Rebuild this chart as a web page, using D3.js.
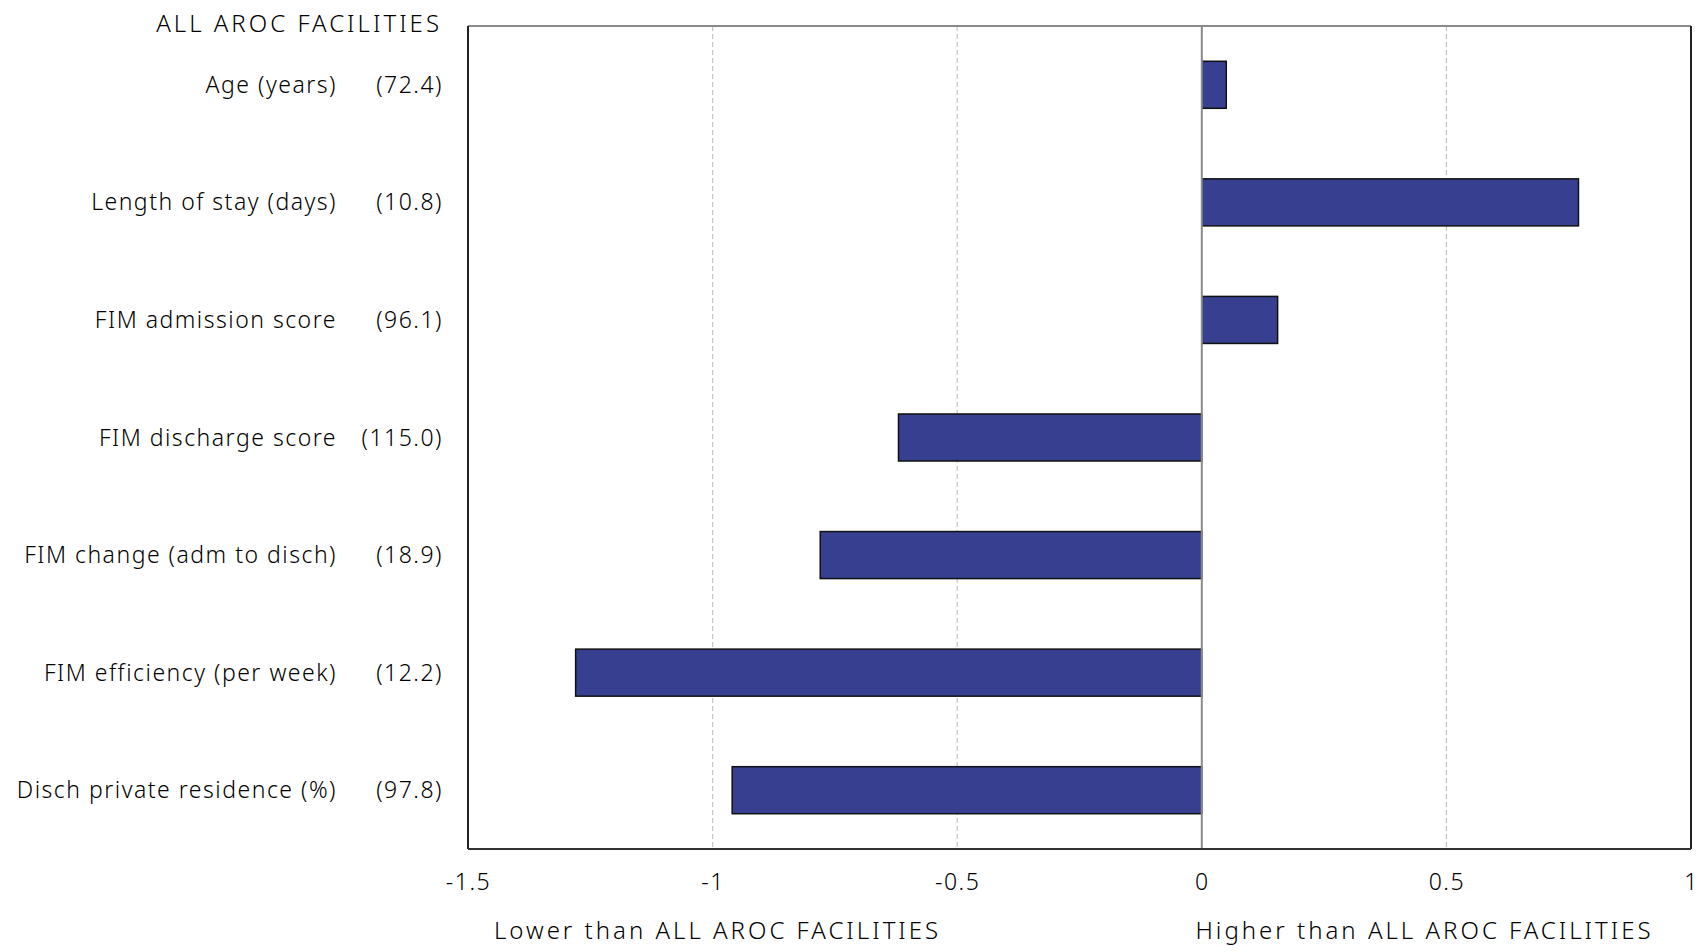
<!DOCTYPE html>
<html>
<head>
<meta charset="utf-8">
<script src="https://cdn.jsdelivr.net/npm/d3@7"></script>
<style>
  body { margin: 0; background: #fff; }
  text { font-family: "Noto Sans", "DejaVu Sans", sans-serif; font-weight: 300; fill: #000; letter-spacing: 1.5px; }
  .caps { letter-spacing: 3px; }
</style>
</head>
<body>
<div id="container"></div>
<script>
/**
 * DATA
 * */
const categories = [
  "Age (years)",
  "Length of stay (days)",
  "FIM admission score",
  "FIM discharge score",
  "FIM change (adm to disch)",
  "FIM efficiency (per week)",
  "Disch private residence (%)"
];
const benchmarkValues = ["(72.4)", "(10.8)", "(96.1)", "(115.0)", "(18.9)", "(12.2)", "(97.8)"];
const differences = [0.05, 0.77, 0.155, -0.62, -0.78, -1.28, -0.96];
const xTicks = [-1.5, -1, -0.5, 0, 0.5, 1];
const headerLabel = "ALL AROC FACILITIES";
const lowerLabel = "Lower than ALL AROC FACILITIES";
const higherLabel = "Higher than ALL AROC FACILITIES";

/**
 * CONSTANTS
 * */
const width = 1700, height = 952;
const margin = { top: 26, right: 9, bottom: 103, left: 468 };
const innerW = width - margin.left - margin.right;
const innerH = height - margin.top - margin.bottom;
const fontSize = "23px";

const svg = d3.select("#container")
  .append("svg")
  .attr("width", width)
  .attr("height", height);

const g = svg.append("g")
  .attr("transform", `translate(${margin.left},${margin.top})`);

const x = d3.scaleLinear().domain([-1.5, 1]).range([0, innerW]);
const y = d3.scaleBand().domain(categories).range([0, innerH]).paddingInner(0.6).paddingOuter(0.3);

// gridlines (dashed)
g.selectAll(".grid")
  .data(xTicks.filter(d => d !== 0 && d !== -1.5 && d !== 1))
  .join("line")
  .attr("class", "grid")
  .attr("x1", d => x(d)).attr("x2", d => x(d))
  .attr("y1", 0).attr("y2", innerH)
  .attr("stroke", "#c4c4c4")
  .attr("stroke-width", 1.2)
  .attr("stroke-dasharray", "5,3");

// bars
g.selectAll(".bar")
  .data(differences)
  .join("rect")
  .attr("class", "bar")
  .attr("x", d => x(Math.min(0, d)))
  .attr("width", d => Math.abs(x(d) - x(0)))
  .attr("y", (d, i) => y(categories[i]))
  .attr("height", y.bandwidth())
  .attr("fill", "#373f91")
  .attr("stroke", "#111")
  .attr("stroke-width", 1.5);

// zero line
g.append("line")
  .attr("x1", x(0)).attr("x2", x(0))
  .attr("y1", 0).attr("y2", innerH)
  .attr("stroke", "#8a8a8a")
  .attr("stroke-width", 2);

// frame
g.append("line").attr("x1", 0).attr("x2", innerW).attr("y1", 0).attr("y2", 0)
  .attr("stroke", "#8a8a8a").attr("stroke-width", 2);
g.append("line").attr("x1", 0).attr("x2", 0).attr("y1", 0).attr("y2", innerH)
  .attr("stroke", "#222").attr("stroke-width", 2);
g.append("line").attr("x1", innerW).attr("x2", innerW).attr("y1", 0).attr("y2", innerH)
  .attr("stroke", "#222").attr("stroke-width", 2);
g.append("line").attr("x1", 0).attr("x2", innerW).attr("y1", innerH).attr("y2", innerH)
  .attr("stroke", "#333").attr("stroke-width", 2);

// x axis labels
const xAxis = d3.axisBottom(x).tickValues(xTicks).tickSize(0).tickPadding(25)
  .tickFormat(d => String(d));
const ax = g.append("g").attr("transform", `translate(0,${innerH})`).call(xAxis);
ax.select(".domain").remove();
ax.selectAll("text")
  .style("font-family", "'Noto Sans', 'DejaVu Sans', sans-serif")
  .style("font-size", fontSize)
  .attr("fill", "#000");

// category labels
svg.selectAll(".cat")
  .data(categories)
  .join("text")
  .attr("class", "cat")
  .attr("x", 337)
  .attr("y", d => margin.top + y(d) + y.bandwidth() / 2)
  .attr("dy", "0.35em")
  .attr("text-anchor", "end")
  .style("font-size", fontSize)
  .text(d => d);

// benchmark values
svg.selectAll(".val")
  .data(benchmarkValues)
  .join("text")
  .attr("class", "val")
  .attr("x", 443)
  .attr("y", (d, i) => margin.top + y(categories[i]) + y.bandwidth() / 2)
  .attr("dy", "0.35em")
  .attr("text-anchor", "end")
  .style("font-size", fontSize)
  .text(d => d);

// header
svg.append("text")
  .attr("class", "caps")
  .attr("x", 442)
  .attr("y", 24)
  .attr("dy", "0.35em")
  .attr("text-anchor", "end")
  .style("font-size", "24px")
  .text(headerLabel);

// bottom direction labels
svg.append("text")
  .attr("class", "caps")
  .attr("x", margin.left + x(-1.447))
  .attr("y", 931)
  .attr("dy", "0.35em")
  .attr("text-anchor", "start")
  .style("font-size", "24px")
  .text(lowerLabel);

svg.append("text")
  .attr("class", "caps")
  .attr("x", margin.left + x(-0.013))
  .attr("y", 931)
  .attr("dy", "0.35em")
  .attr("text-anchor", "start")
  .style("font-size", "24px")
  .text(higherLabel);
</script>
</body>
</html>
